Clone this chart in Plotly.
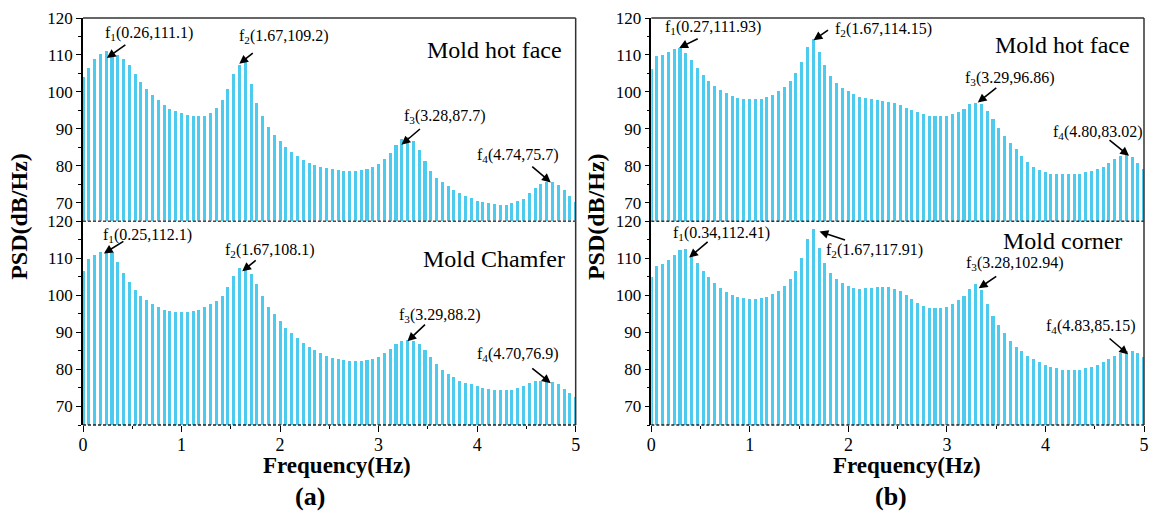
import plotly.graph_objects as go

# ---------------- data ----------------
freqs = [0.0, 0.0588, 0.1176, 0.1765, 0.2353, 0.2941, 0.3529, 0.4118, 0.4706, 0.5294,
         0.5882, 0.6471, 0.7059, 0.7647, 0.8235, 0.8824, 0.9412, 1.0,
         1.0588, 1.1176, 1.1765, 1.2353, 1.2941, 1.3529, 1.4118, 1.4706, 1.5294,
         1.5882, 1.6471, 1.7059, 1.7647, 1.8235, 1.8824, 1.9412, 2.0,
         2.0588, 2.1176, 2.1765, 2.2353, 2.2941, 2.3529, 2.4118, 2.4706, 2.5294,
         2.5882, 2.6471, 2.7059, 2.7647, 2.8235, 2.8824, 2.9412, 3.0,
         3.0588, 3.1176, 3.1765, 3.2353, 3.2941, 3.3529, 3.4118, 3.4706, 3.5294,
         3.5882, 3.6471, 3.7059, 3.7647, 3.8235, 3.8824, 3.9412, 4.0,
         4.0588, 4.1176, 4.1765, 4.2353, 4.2941, 4.3529, 4.4118, 4.4706, 4.5294,
         4.5882, 4.6471, 4.7059, 4.7647, 4.8235, 4.8824, 4.9412, 5.0]

a_hot_face = [104.0, 106.6, 108.8, 110.2, 111.1, 110.8, 109.9, 108.8, 107.3, 104.9,
              102.7, 100.8, 99.1, 97.7, 96.4, 95.5, 94.8, 94.2, 93.8, 93.6,
              93.6, 93.6, 94.2, 95.6, 97.7, 100.9, 104.9, 107.4, 109.1, 102.2,
              96.9, 93.6, 90.4, 88.3, 86.6, 85.2, 83.8, 82.7, 81.6, 80.8,
              80.2, 79.8, 79.4, 79.1, 78.8, 78.7, 78.7, 78.7, 78.9, 79.2,
              79.6, 80.4, 81.8, 83.5, 85.5, 87.2, 87.7, 86.6, 84.2, 81.2,
              78.6, 76.7, 75.5, 74.4, 73.4, 72.6, 71.9, 71.3, 70.6, 70.2,
              69.8, 69.6, 69.5, 69.5, 69.8, 70.5, 71.1, 72.5, 74.1, 75.2,
              75.5, 75.6, 74.9, 73.5, 71.9, 70.1]

a_chamfer = [106.4, 109.8, 110.9, 111.7, 112.0, 111.6, 108.9, 105.9, 103.5, 101.4,
             99.8, 98.6, 97.5, 96.7, 96.1, 95.7, 95.5, 95.4, 95.5, 95.8,
             96.1, 96.7, 97.5, 98.5, 99.7, 102.2, 105.1, 107.2, 106.9, 105.8,
             103.1, 99.8, 96.9, 95.0, 93.1, 91.2, 89.7, 88.5, 87.2, 86.1,
             85.2, 84.3, 83.6, 83.1, 82.7, 82.4, 82.3, 82.2, 82.3, 82.4,
             82.7, 83.2, 84.3, 85.5, 86.7, 87.5, 87.9, 87.6, 86.8, 85.2,
             83.2, 81.3, 79.8, 78.7, 77.8, 76.9, 76.4, 75.9, 75.4, 75.0,
             74.7, 74.5, 74.5, 74.5, 74.5, 74.9, 75.4, 76.2, 76.8, 76.9,
             76.9, 76.5, 75.9, 74.7, 73.6, 72.6]

b_hot_face = [106.2, 109.7, 110.1, 110.9, 111.7, 111.9, 110.5, 108.5, 106.5, 104.5,
              102.9, 101.6, 100.6, 99.8, 99.0, 98.4, 98.1, 98.0, 98.0, 98.1,
              98.6, 99.2, 100.2, 101.3, 102.9, 105.1, 108.1, 112.1, 114.2, 110.8,
              107.2, 104.4, 102.5, 101.1, 100.2, 99.4, 98.7, 98.3, 98.1, 97.8,
              97.6, 97.3, 97.0, 96.4, 95.7, 95.1, 94.5, 94.0, 93.6, 93.4,
              93.4, 93.5, 93.9, 94.6, 95.5, 96.6, 97.0, 96.6, 94.8, 92.6,
              90.3, 88.1, 86.3, 84.5, 82.7, 81.0, 79.8, 78.9, 78.3, 77.9,
              77.7, 77.7, 77.7, 77.7, 77.9, 78.3, 78.6, 79.1, 79.8, 80.7,
              81.8, 82.7, 83.0, 82.4, 80.8, 79.0]

b_corner = [104.9, 107.8, 108.5, 109.4, 110.7, 112.1, 112.4, 110.6, 108.8, 106.6,
            104.8, 103.2, 101.9, 100.9, 100.1, 99.6, 99.2, 99.0, 99.0, 99.2,
            99.5, 100.2, 101.2, 102.4, 104.3, 106.6, 110.0, 115.1, 117.9, 112.7,
            108.8, 106.0, 104.4, 103.2, 102.4, 101.9, 101.7, 101.8, 102.0, 102.2,
            102.2, 102.1, 101.7, 101.0, 99.9, 98.9, 97.9, 97.1, 96.6, 96.4,
            96.4, 96.8, 97.5, 98.6, 99.8, 101.7, 103.0, 101.3, 97.7, 94.4,
            91.8, 89.7, 87.7, 86.1, 84.9, 83.7, 82.7, 81.9, 81.2, 80.5,
            80.2, 79.9, 79.8, 79.8, 79.9, 80.2, 80.5, 81.1, 81.9, 82.8,
            83.6, 84.3, 84.9, 85.0, 84.4, 83.2]

panel_names = ["Mold hot face", "Mold hot face", "Mold Chamfer", "Mold corner"]
y_ticks = [70, 80, 90, 100, 110, 120]
x_ticks = [0, 1, 2, 3, 4, 5]

# peak labels: (panel, label, head_x, head_y, arrow_dx, arrow_dy, text_x, text_y)
peaks = [
    (1, "f<sub>1</sub>(0.26,111.1)", 0.242, 109.2, 20, -14, 0.667, 115.9),
    (1, "f<sub>2</sub>(1.67,109.2)", 1.586, 107.6, 15, -12, 2.04, 115.1),
    (1, "f<sub>3</sub>(3.28,87.7)", 3.232, 85.7, 20, -17, 3.677, 93.3),
    (1, "f<sub>4</sub>(4.74,75.7)", 4.747, 75.5, -20, -17, 4.414, 82.7),
    (3, "f<sub>1</sub>(0.25,112.1)", 0.212, 111.3, 21, -13, 0.657, 116.2),
    (3, "f<sub>2</sub>(1.67,108.1)", 1.616, 106.5, 15, -12, 1.899, 112.1),
    (3, "f<sub>3</sub>(3.29,88.2)", 3.293, 87.6, 19, -18, 3.626, 94.6),
    (3, "f<sub>4</sub>(4.70,76.9)", 4.747, 76.3, -20, -16, 4.414, 83.9),
    (2, "f<sub>1</sub>(0.27,111.93)", 0.283, 111.9, 20, -10, 0.626, 117.3),
    (2, "f<sub>2</sub>(1.67,114.15)", 1.646, 114.0, 16, -11, 2.354, 116.8),
    (2, "f<sub>3</sub>(3.29,96.86)", 3.313, 97.1, 20, -16, 3.636, 103.5),
    (2, "f<sub>4</sub>(4.80,83.02)", 4.848, 82.7, -21, -17, 4.535, 89.0),
    (4, "f<sub>1</sub>(0.34,112.41)", 0.384, 110.2, 20, -17, 0.717, 116.7),
    (4, "f<sub>2</sub>(1.67,117.91)", 1.707, 117.2, 27, 9, 2.263, 112.1),
    (4, "f<sub>3</sub>(3.28,102.94)", 3.323, 101.9, 19, -13, 3.687, 108.6),
    (4, "f<sub>4</sub>(4.83,85.15)", 4.838, 84.1, -20, -17, 4.465, 91.6),
]

# ---------------- figure ----------------
BAR_COLOR = "#4ccbee"
FONT = "Liberation Serif"
series = [a_hot_face, b_hot_face, a_chamfer, b_corner]

fig = go.Figure()
for i, vals in enumerate(series, start=1):
    sfx = "" if i == 1 else str(i)
    fig.add_trace(go.Bar(x=freqs, y=vals, width=0.031, marker=dict(color=BAR_COLOR, line=dict(width=0)),
                         xaxis="x" + sfx, yaxis="y" + sfx, showlegend=False, hoverinfo="x+y"))

L, R, T, B = 83, 9, 17, 89
W, H = 1158 - L - R, 514 - T - B
xa = [0, 495 / W]
xb = [1 - 495 / W, 1]
ymid = (425 - 220.7) / H
ytop = [ymid, 1]
ybot = [0, ymid]

def xax(domain, anchor, labels):
    d = dict(domain=domain, anchor=anchor, range=[0, 5], showgrid=False, zeroline=False, showline=False)
    if labels:
        d.update(tickvals=x_ticks, ticks="outside", ticklen=6, tickwidth=1.3, tickcolor="black",
                 ticklabelstandoff=-3,
                 tickfont=dict(family=FONT, size=18, color="black"),
                 minor=dict(dtick=0.5, tick0=0, ticks="outside", ticklen=3, tickwidth=1.2, tickcolor="black"))
    else:
        d.update(showticklabels=False, ticks="")
    return d

def yax(domain, anchor):
    return dict(domain=domain, anchor=anchor, range=[65, 120], showgrid=False, zeroline=False,
                showline=True, linecolor="black", linewidth=1.5,
                tickvals=y_ticks, ticks="outside", ticklen=5, tickwidth=1.3, tickcolor="black",
                tickfont=dict(family=FONT, size=17, color="black"),
                minor=dict(dtick=5, tick0=0, ticks="outside", ticklen=3, tickwidth=1.2, tickcolor="black"))

fig.update_layout(
    width=1158, height=514, margin=dict(l=L, r=R, t=T, b=B),
    paper_bgcolor="white", plot_bgcolor="white", bargap=0,
    font=dict(family=FONT, color="black"),
    xaxis=xax(xa, "y", False), yaxis=yax(ytop, "x"),
    xaxis2=xax(xb, "y2", False), yaxis2=yax(ytop, "x2"),
    xaxis3=xax(xa, "y3", True), yaxis3=yax(ybot, "x3"),
    xaxis4=xax(xb, "y4", True), yaxis4=yax(ybot, "x4"),
)

shapes = []
for dom, midcol in ((xa, "#7a3b2e"), (xb, "#333333")):
    shapes.append(dict(type="line", xref="paper", yref="paper", x0=dom[0], x1=dom[1], y0=1, y1=1,
                       line=dict(color="#333333", width=1.5)))
    shapes.append(dict(type="line", xref="paper", yref="paper", x0=dom[1], x1=dom[1], y0=0, y1=1,
                       line=dict(color="#333333", width=1.5)))
    shapes.append(dict(type="line", xref="paper", yref="paper", x0=dom[0], x1=dom[1], y0=ymid, y1=ymid,
                       line=dict(color=midcol, width=1.5, dash="3px,2px")))
    shapes.append(dict(type="line", xref="paper", yref="paper", x0=dom[0], x1=dom[1], y0=0, y1=0,
                       line=dict(color="#222222", width=1.5, dash="3px,2px")))
fig.update_layout(shapes=shapes)

ann = []
name_pos = {1: (4.172, 111.4), 2: (4.172, 112.7), 3: (4.172, 109.7), 4: (4.172, 114.6)}
for i in range(1, 5):
    sfx = "" if i == 1 else str(i)
    nx, ny = name_pos[i]
    ann.append(dict(text=panel_names[i - 1], x=nx, y=ny, xref="x" + sfx, yref="y" + sfx, showarrow=False,
                    font=dict(family=FONT, size=24, color="black"), xanchor="center", yanchor="middle"))
for (p, label, hx, hy, dx, dy, tx, ty) in peaks:
    sfx = "" if p == 1 else str(p)
    ann.append(dict(text=label, x=tx, y=ty, xref="x" + sfx, yref="y" + sfx, showarrow=False,
                    font=dict(family=FONT, size=16, color="black"), xanchor="center", yanchor="middle"))
    ann.append(dict(text="", x=hx, y=hy, xref="x" + sfx, yref="y" + sfx, showarrow=True,
                    ax=dx, ay=dy, arrowhead=2, arrowsize=1.1, arrowwidth=1.6, arrowcolor="black",
                    standoff=0))

def P(px, py):
    return (px - L) / W, (514 - B - py) / H

for px, py, txt, size, angle in ((18, 216, "PSD(dB/Hz)", 24, -90), (598, 216, "PSD(dB/Hz)", 24, -90),
                                 (338, 466, "Frequency(Hz)", 23, 0), (911, 466, "Frequency(Hz)", 23, 0),
                                 (311, 497, "(a)", 26, 0), (895, 497, "(b)", 26, 0)):
    x, y = P(px, py)
    ann.append(dict(text="<b>" + txt + "</b>", x=x, y=y, xref="paper", yref="paper", showarrow=False,
                    textangle=angle, font=dict(family=FONT, size=size, color="black"),
                    xanchor="center", yanchor="middle"))
fig.update_layout(annotations=ann)

fig.write_html("out.html")
